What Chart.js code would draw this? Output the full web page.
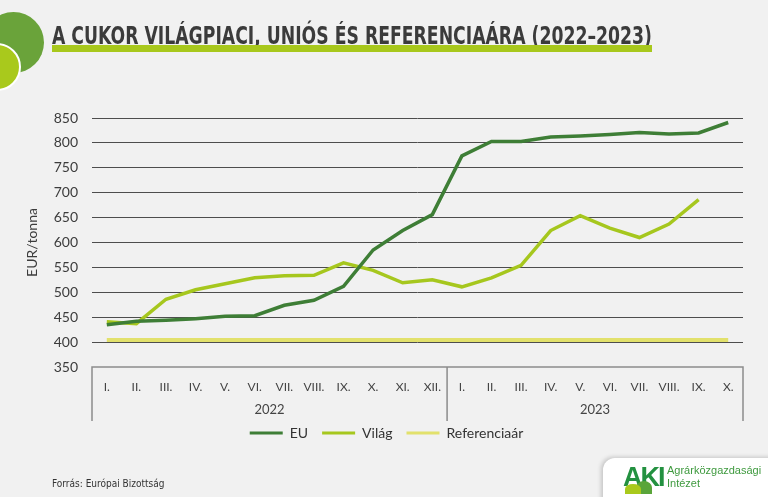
<!DOCTYPE html>
<html>
<head>
<meta charset="utf-8">
<script src="https://cdn.jsdelivr.net/npm/chart.js@4.4.0/dist/chart.umd.min.js"></script>
<style>
  html, body { margin: 0; padding: 0; background: #f1f1f1; }
  body { width: 768px; height: 497px; position: relative; overflow: hidden; font-family: Lato, sans-serif; }
  #chartBox { position: absolute; left: 0; top: 0; width: 768px; height: 497px; }
  .c1 { position: absolute; left: -17px; top: 12px; width: 61px; height: 61px; border-radius: 50%; background: #6aa33a; }
  .c2 { position: absolute; left: -27px; top: 43px; width: 48px; height: 48px; border-radius: 50%; background: #a9c91c; border: 2px solid #fff; box-sizing: border-box; }
  #title { position: absolute; left: 52px; top: 22px; line-height: 24px; font: bold 24px "Liberation Sans Narrow", "DejaVu Sans Condensed", sans-serif; color: #3b3b3b; white-space: nowrap; transform-origin: 0 0; }
  #bar { position: absolute; left: 52px; top: 45px; width: 600px; height: 7px; background: #a8c81c; }
  #src { position: absolute; left: 52px; top: 478px; font: 10px "Liberation Sans Narrow", "DejaVu Sans Condensed", sans-serif; color: #333; }
  #logo { position: absolute; left: 603px; top: 458px; width: 180px; height: 60px; background: #fff; border-top-left-radius: 12px; box-shadow: -2px -1px 4px rgba(0,0,0,0.18); }
  #aki { position: absolute; left: 20px; top: 6px; font: bold 27px "Liberation Sans", Arial, sans-serif; color: #239140; letter-spacing: -2px; line-height: 27px; }
  .h1 { position: absolute; left: 22px; top: 26px; width: 16px; height: 10px; border-radius: 50% 50% 0 0; background: #a9c91c; }
  .h2 { position: absolute; left: 33px; top: 23px; width: 16px; height: 13px; border-radius: 50% 50% 0 0; background: #5aa53a; }
  #akiTxt { position: absolute; left: 64px; top: 6px; font: 11px "Liberation Sans", Arial, sans-serif; color: #3f9a3f; line-height: 13px; }
</style>
</head>
<body>
<div id="chartBox"><canvas id="chart" width="768" height="497"></canvas></div>
<div class="c1"></div>
<div class="c2"></div>
<div id="title">A CUKOR VILÁGPIACI, UNIÓS ÉS REFERENCIAÁRA (2022–2023)</div>
<div id="bar"></div>
<div id="src">Forrás: Európai Bizottság</div>
<div id="logo">
  <div id="aki">AKI</div>
  <div class="h2"></div>
  <div class="h1"></div>
  <div id="akiTxt">Agrárközgazdasági<br>Intézet</div>
</div>
<script>
// months on the axis, two years
const months = ["I.", "II.", "III.", "IV.", "V.", "VI.", "VII.", "VIII.", "IX.", "X.", "XI.", "XII.",
                "I.", "II.", "III.", "IV.", "V.", "VI.", "VII.", "VIII.", "IX.", "X."];
const years = ["2022", "2023"];
const yearLengths = [12, 10];

// EUR/tonna
const euPrice = [435, 442, 444, 447, 452, 453, 474, 484, 512, 585, 624, 656,
                 774, 803, 803, 812, 814, 817, 821, 818, 820, 841];
const worldPrice = [441, 437, 486, 505, 517, 529, 533, 534, 559, 544, 519, 525,
                    511, 529, 554, 624, 654, 629, 610, 637, 686, null];
const refPrice = [404, 404, 404, 404, 404, 404, 404, 404, 404, 404, 404,
                  404, 404, 404, 404, 404, 404, 404, 404, 404, 404, 404];

const yTicks = { min: 350, max: 850, step: 50 };

// title squeezed to the bar width
const t = document.getElementById('title');
t.style.transform = 'scaleX(' + (600 / t.scrollWidth) + ')';

const AXIS_DEPTH = 54;

// box round the month labels, year groups below
const yearBox = {
  id: 'yearBox',
  afterDraw(chart) {
    const { ctx, chartArea } = chart;
    const x = chart.scales.x;
    const top = chartArea.bottom;
    const bottom = top + AXIS_DEPTH;
    const half = (x.getPixelForValue(1) - x.getPixelForValue(0)) / 2;
    ctx.save();
    ctx.strokeStyle = '#8c8c8c';
    ctx.lineWidth = 1.5;
    ctx.beginPath();
    ctx.moveTo(chartArea.left, bottom);
    ctx.lineTo(chartArea.left, top);
    ctx.lineTo(chartArea.right, top);
    ctx.lineTo(chartArea.right, bottom);
    let start = 0;
    ctx.font = '13px Lato';
    ctx.fillStyle = '#444';
    ctx.textAlign = 'center';
    ctx.textBaseline = 'middle';
    years.forEach((y, i) => {
      const end = start + yearLengths[i] - 1;
      const x0 = x.getPixelForValue(start) - half;
      const x1 = x.getPixelForValue(end) + half;
      if (i > 0) {
        ctx.moveTo(x0, top);
        ctx.lineTo(x0, bottom);
      }
      ctx.fillText(y, (x0 + x1) / 2, top + 43);
      start = end + 1;
    });
    ctx.stroke();
    ctx.restore();
  }
};

// nudge legend toward the reference's spot
const legendShift = {
  id: 'legendShift',
  afterLayout(chart) {
    chart.legend.left += 15;
    chart.legend.right += 15;
  }
};

new Chart(document.getElementById('chart'), {
  type: 'line',
  data: {
    labels: months,
    datasets: [
      { label: 'EU', data: euPrice, borderColor: '#3e7e36', backgroundColor: '#3e7e36', borderWidth: 3.5 },
      { label: 'Világ', data: worldPrice, borderColor: '#a6c71e', backgroundColor: '#a6c71e', borderWidth: 3.5 },
      { label: 'Referenciaár', data: refPrice, borderColor: '#e2e16c', backgroundColor: '#e2e16c', borderWidth: 4 }
    ]
  },
  options: {
    responsive: false,
    animation: false,
    devicePixelRatio: 1,
    layout: { padding: { top: 118, left: 0, right: 25, bottom: 47 } },
    elements: { point: { radius: 0 }, line: { tension: 0, borderCapStyle: 'butt' } },
    plugins: {
      tooltip: { enabled: false },
      legend: {
        position: 'bottom',
        labels: {
          boxWidth: 33,
          boxHeight: 3,
          padding: 14,
          color: '#333',
          font: { family: 'Lato', size: 14 },
          generateLabels(chart) {
            return Chart.defaults.plugins.legend.labels.generateLabels(chart).map(l => ({ ...l, lineWidth: 0 }));
          }
        }
      }
    },
    scales: {
      x: {
        offset: true,
        grid: { display: false },
        border: { display: false },
        afterFit(scale) { scale.height = AXIS_DEPTH - 9; },
        ticks: {
          autoSkip: false, maxRotation: 0, padding: 5,
          color: '#444', font: { family: 'Lato', size: 12 }
        }
      },
      y: {
        min: yTicks.min, max: yTicks.max,
        afterFit(scale) { scale.width = 92; },
        border: { display: false },
        grid: {
          drawTicks: false,
          color: ctx => ctx.tick && ctx.tick.value === yTicks.min ? 'rgba(0,0,0,0)' : '#4d4d4d',
          lineWidth: 1
        },
        ticks: { stepSize: yTicks.step, padding: 14, color: '#3c3c3c', font: { family: 'Lato', size: 14 } },
        title: { display: true, text: 'EUR/tonna', color: '#3c3c3c', font: { family: 'Lato', size: 14 }, padding: { top: 24, bottom: 0 } }
      }
    }
  },
  plugins: [yearBox, legendShift]
});
</script>
</body>
</html>
